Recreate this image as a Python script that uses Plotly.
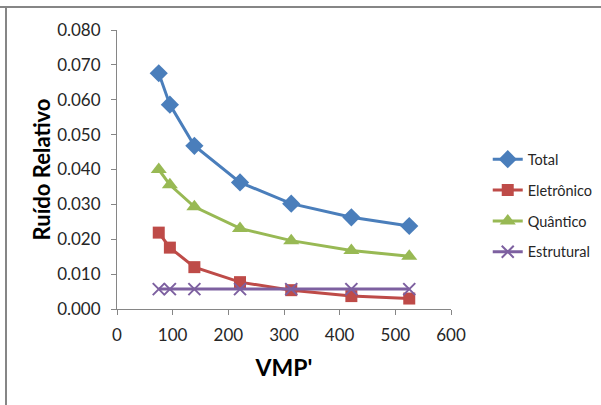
import plotly.graph_objects as go

vmp = [75, 95, 139, 221, 313, 421, 525]
total = [0.0676, 0.0586, 0.0468, 0.0363, 0.0302, 0.0263, 0.0238]
eletronico = [0.0219, 0.0176, 0.0120, 0.0077, 0.0054, 0.0037, 0.0030]
quantico = [0.0400, 0.0356, 0.0293, 0.0231, 0.0196, 0.0168, 0.0151]
estrutural = [0.0057, 0.0057, 0.0057, 0.0057, 0.0057, 0.0057, 0.0057]

names = ["Total", "Eletrônico", "Quântico", "Estrutural"]
colors = ["#4A7EBB", "#BE4B48", "#98B954", "#7D60A0"]
symbols = ["diamond", "square", "triangle-up", "x-thin"]
sizes = [14, 12, 14, 12]
series = [total, eletronico, quantico, estrutural]

FONT = "Lato, 'Liberation Sans', sans-serif"

fig = go.Figure()
for name, ys, c, s, sz in zip(names, series, colors, symbols, sizes):
    marker = dict(symbol=s, size=sz, color=c)
    if s == "x-thin":
        marker["line"] = dict(color=c, width=2)
    fig.add_trace(go.Scatter(
        x=vmp, y=ys, name=name, mode="lines+markers",
        line=dict(color=c, width=3), marker=marker, legendgroup=name,
    ))

axis_common = dict(
    showgrid=False, zeroline=False, showline=True, linecolor="#868686", linewidth=1,
    ticks="outside", ticklen=5, tickcolor="#868686",
    tickfont=dict(family=FONT, size=17, color="#262626"),
)

fig.update_layout(
    width=601, height=405,
    margin=dict(l=117, r=150, t=30, b=96, autoexpand=False),
    paper_bgcolor="white", plot_bgcolor="white",
    xaxis=dict(range=[0, 600], dtick=100, tick0=0, ticklabelstandoff=6, automargin=False,
               title=dict(text="<b>VMP'</b>", font=dict(family=FONT, size=23, color="black"), standoff=15),
               **axis_common),
    yaxis=dict(range=[0, 0.08], dtick=0.01, tick0=0, tickformat=".3f", ticklabelstandoff=7, automargin=False,
               title=dict(text="<b>Ruído Relativo</b>", font=dict(family=FONT, size=22, color="black"), standoff=0),
               **axis_common),
    legend=dict(x=1.11, y=0.37, xanchor="left", yanchor="middle",
                font=dict(family=FONT, size=14.5, color="#262626"),
                tracegroupgap=9, itemwidth=30, bgcolor="rgba(0,0,0,0)"),
    shapes=[
        dict(type="line", xref="paper", yref="paper", x0=-117/334, x1=1 + 150/334,
             y0=1 + 23/279, y1=1 + 23/279, line=dict(color="#868686", width=2)),
        dict(type="line", xref="paper", yref="paper", x0=-111/334, x1=-111/334,
             y0=1 + 23/279, y1=-96/279, line=dict(color="#868686", width=2)),
    ],
)

fig.write_html("out.html")
